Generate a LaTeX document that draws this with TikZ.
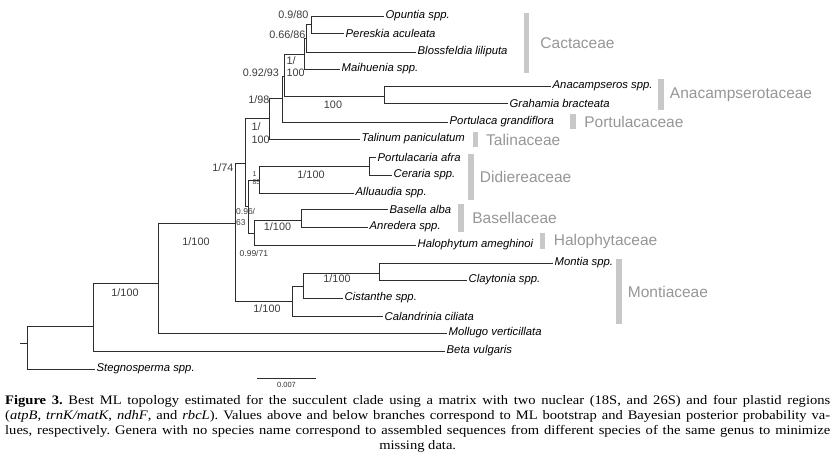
\documentclass[tikz,border=0pt]{standalone}
\usepackage{fontspec}
\setmainfont{Liberation Serif}[FakeStretch=1.12]
\newfontfamily\arialfont{Liberation Sans}
\usepackage{tikz}
\usetikzlibrary{positioning}
\definecolor{branchgray}{RGB}{45,45,45}
\definecolor{supportgray}{RGB}{60,60,60}
\definecolor{familygray}{RGB}{150,150,150}
\definecolor{bargray}{RGB}{200,200,200}
\frenchspacing

\begin{document}
\begin{tikzpicture}[
  x=1pt, y=-1pt,
  branch/.style={draw=branchgray, line width=0.9pt},
  taxon/.style={anchor=west, inner sep=1.5pt, font=\arialfont\itshape\fontsize{11.3}{13}\selectfont},
  support/.style={inner sep=0pt, text=supportgray, font=\arialfont\fontsize{10.8}{12.5}\selectfont, align=left},
  small_support/.style={support, font=\arialfont\fontsize{8.5}{11}\selectfont},
  tiny_support/.style={support, font=\arialfont\fontsize{7}{8}\selectfont},
  famBar/.style={fill=bargray, minimum width=5.5pt, inner sep=0pt},
  family/.style={inner sep=0pt, text=familygray, font=\arialfont\fontsize{15.5}{18}\selectfont},
  caption_style/.style={anchor=base west, inner sep=0pt, text width=825pt, align=justify, font=\fontsize{13}{15}\selectfont}
]
\useasboundingbox (0,0) rectangle (835,475);

% Internal nodes
\coordinate (stub) at (20,343);
\coordinate (r) at (27,343);
\coordinate (n1) at (93,326);
\coordinate (n2) at (158,283);
\coordinate (n3) at (235,223);
\coordinate (n4) at (245.5,163);
\coordinate (n5) at (269,118);
\coordinate (n7) at (282,98);
\coordinate (n8) at (284,76);
\coordinate (cac) at (304,54);
\coordinate (cac2) at (306,38);
\coordinate (cac3) at (311,24.5);
\coordinate (ana) at (384,96);
\coordinate (n6) at (248.7,206);
\coordinate (did) at (259.7,180);
\coordinate (did2) at (369.3,166.7);
\coordinate (bh) at (254,233);
\coordinate (bas) at (301,220);
\coordinate (m1) at (292,301);
\coordinate (m2) at (303.5,286);
\coordinate (m3) at (379,273);

% Tips
\node[taxon] (opu) at (384,16) {Opuntia spp.};
\node[taxon] (per) at (344,33) {Pereskia aculeata};
\node[taxon] (blo) at (416,52) {Blossfeldia liliputa};
\node[taxon] (mai) at (340,69) {Maihuenia spp.};
\node[taxon] (anc) at (551,86) {Anacampseros spp.};
\node[taxon] (gra) at (508,103) {Grahamia bracteata};
\node[taxon] (por) at (448,122) {Portulaca grandiflora};
\node[taxon] (tal) at (360,139) {Talinum paniculatum};
\node[taxon] (pca) at (376,157) {Portulacaria afra};
\node[taxon] (cer) at (392,175) {Ceraria spp.};
\node[taxon] (all) at (354,193) {Alluaudia spp.};
\node[taxon] (bsa) at (388,209) {Basella alba};
\node[taxon] (anr) at (368,227) {Anredera spp.};
\node[taxon] (hal) at (416,245) {Halophytum ameghinoi};
\node[taxon] (mon) at (553,263) {Montia spp.};
\node[taxon] (cla) at (467,280) {Claytonia spp.};
\node[taxon] (cis) at (343,298) {Cistanthe spp.};
\node[taxon] (cal) at (383,316) {Calandrinia ciliata};
\node[taxon] (mol) at (447,333) {Mollugo verticillata};
\node[taxon] (bet) at (445,351) {Beta vulgaris};
\node[taxon] (ste) at (95,369) {Stegnosperma spp.};

% Backbone
\draw[branch] (stub) -- (r);
\draw[branch] (r) |- (n1) (r) |- (ste.west);
\draw[branch] (n1) |- (n2) (n1) |- (bet.west);
\draw[branch] (n2) |- (n3) (n2) |- (mol.west);
\draw[branch] (n3) |- (n4) (n3) |- (m1);
\draw[branch] (n4) |- (n5) (n4) |- (n6);
\draw[branch] (n5) |- (n7) (n5) |- (tal.west);
\draw[branch] (n7) |- (n8) (n7) |- (por.west);
\draw[branch] (n8) |- (cac) (n8) |- (ana);

% Cactaceae and Anacampserotaceae
\draw[branch] (cac) |- (cac2) (cac) |- (mai.west);
\draw[branch] (cac2) |- (cac3) (cac2) |- (blo.west);
\draw[branch] (cac3) |- (opu.west) (cac3) |- (per.west);
\draw[branch] (ana) |- (anc.west) (ana) |- (gra.west);

% Didiereaceae, Basellaceae, Halophytum
\draw[branch] (n6) |- (did) (n6) |- (bh);
\draw[branch] (did) |- (did2) (did) |- (all.west);
\draw[branch] (did2) |- (pca.west) (did2) |- (cer.west);
\draw[branch] (bh) |- (bas) (bh) |- (hal.west);
\draw[branch] (bas) |- (bsa.west) (bas) |- (anr.west);

% Montiaceae
\draw[branch] (m1) |- (m2) (m1) |- (cal.west);
\draw[branch] (m2) |- (m3) (m2) |- (cis.west);
\draw[branch] (m3) |- (mon.west) (m3) |- (cla.west);

% Support values
\node[support, anchor=east] (s_cac3) at (308.5,15) {0.9/80};
\node[support, anchor=east] (s_cac2) at (305.5,35) {0.66/86};
\node[support, anchor=west] (s_cac) at (286.5,66.5) {1/\\100};
\node[support, anchor=east] (s_n8) at (279,72.5) {0.92/93};
\node[support] (s_ana) at (333,105) {100};
\node[support, anchor=east] (s_n7) at (269.5,100) {1/98};
\node[support, anchor=west] (s_n5) at (251.5,133) {1/\\100};
\node[support, anchor=east] (s_n4) at (233.5,168) {1/74};
\node[tiny_support, anchor=west] (s_did) at (252.3,178.5) {1\\85};
\node[support] (s_did2) at (311,175) {1/100};
\node[small_support, anchor=west] (s_n6) at (236,216.5) {0.96/\\63};
\node[support] (s_bas) at (277.5,227) {1/100};
\node[small_support, anchor=west] (s_bh) at (239.5,253) {0.99/71};
\node[support] (s_n3) at (196,242) {1/100};
\node[support] (s_n2) at (125,293) {1/100};
\node[support] (s_m3) at (337,279) {1/100};
\node[support] (s_m1) at (267,309) {1/100};

% Families
\node[famBar, minimum height=60pt] (bar_cac) at (526.3,43.3) {};
\node[family, right=11pt of bar_cac] {Cactaceae};
\node[famBar, minimum height=31pt] (bar_ana) at (660.8,94.5) {};
\node[family, right=6pt of bar_ana] {Anacampserotaceae};
\node[famBar, minimum height=15pt] (bar_por) at (573.2,121.5) {};
\node[family, right=8pt of bar_por] {Portulacaceae};
\node[famBar, minimum height=15pt] (bar_tal) at (475.5,139.5) {};
\node[family, right=7.5pt of bar_tal] {Talinaceae};
\node[famBar, minimum height=46pt] (bar_did) at (470.8,177) {};
\node[family, right=6pt of bar_did] {Didiereaceae};
\node[famBar, minimum height=28pt] (bar_bas) at (461.2,218) {};
\node[family, right=8pt of bar_bas] {Basellaceae};
\node[famBar, minimum height=15.7pt] (bar_hal) at (542.7,241.2) {};
\node[family, right=8pt of bar_hal] {Halophytaceae};
\node[famBar, minimum height=65pt] (bar_mon) at (619.2,291.5) {};
\node[family, right=5.5pt of bar_mon] {Montiaceae};

% Scale bar
\coordinate (sb_left) at (257,378);
\coordinate (sb_right) at (316,378);
\draw[branchgray, line width=0.7pt] (sb_left) -- (sb_right) node[midway, below=4pt, inner sep=0pt, font=\arialfont\fontsize{7.5}{9}\selectfont] (sb_label) {0.007};

% Caption
\node[caption_style] (caption) at (5,404) {{\parfillskip=0pt \textbf{Figure 3.} Best ML topology estimated for the succulent clade using a matrix with two nuclear (18S, and 26S) and four plastid regions\linebreak
(\textit{atpB}, \textit{trnK/matK}, \textit{ndhF}, and \textit{rbcL}). Values above and below branches correspond to ML bootstrap and Bayesian posterior probability va-\linebreak
lues, respectively. Genera with no species name correspond to assembled sequences from different species of the same genus to minimize\par}
{\centering missing data.\par}};

\end{tikzpicture}
\end{document}
